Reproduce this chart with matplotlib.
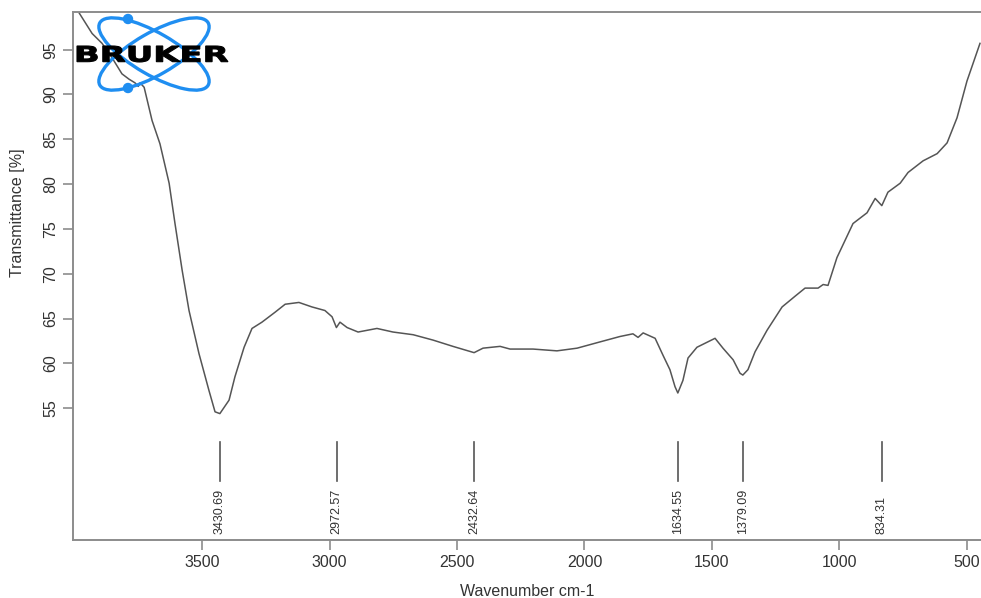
import matplotlib
matplotlib.use("Agg")
import matplotlib.pyplot as plt
from matplotlib.patches import Ellipse, Circle, PathPatch
from matplotlib.textpath import TextPath
from matplotlib.font_manager import FontProperties
from matplotlib.transforms import Affine2D

plt.rcParams["font.family"] = ["Liberation Sans", "DejaVu Sans"]

# spectrum
wavenumber = [3982, 3931, 3892, 3853, 3814, 3786, 3763, 3750, 3743, 3727,
              3696, 3665, 3629, 3606, 3578, 3551, 3512, 3473, 3449, 3430,
              3394, 3371, 3335, 3304, 3265, 3214, 3174, 3120, 3069, 3018,
              2990, 2973, 2959, 2931, 2888, 2814, 2751, 2672, 2594, 2516,
              2433, 2398, 2331, 2292, 2202, 2108, 2029, 1939, 1861, 1810,
              1790, 1770, 1723, 1692, 1665, 1645, 1634, 1614, 1594, 1559,
              1488, 1457, 1417, 1390, 1379, 1359, 1331, 1284, 1225, 1174,
              1135, 1084, 1064, 1045, 1010, 947, 892, 860, 834, 810,
              762, 731, 672, 617, 578, 539, 500, 449]
transmittance = [99.1, 96.8, 95.7, 94.1, 92.3, 91.7, 91.3, 90.9, 91.3, 90.8,
                 87.1, 84.5, 80.1, 75.6, 70.4, 65.9, 61.1, 57.0, 54.6, 54.4,
                 55.9, 58.5, 61.8, 63.9, 64.6, 65.7, 66.6, 66.8, 66.3, 65.9,
                 65.2, 64.0, 64.6, 64.0, 63.5, 63.9, 63.5, 63.2, 62.6, 61.9,
                 61.2, 61.7, 61.9, 61.6, 61.6, 61.4, 61.7, 62.4, 63.0, 63.3,
                 62.9, 63.4, 62.8, 60.9, 59.3, 57.4, 56.7, 58.1, 60.6, 61.8,
                 62.8, 61.7, 60.4, 58.9, 58.7, 59.3, 61.3, 63.7, 66.3, 67.5,
                 68.4, 68.4, 68.8, 68.7, 71.8, 75.6, 76.8, 78.4, 77.6, 79.1,
                 80.1, 81.3, 82.6, 83.4, 84.6, 87.4, 91.5, 95.7]

peaks = [3430.69, 2972.57, 2432.64, 1634.55, 1379.09, 834.31]
peak_labels = ["3430.69", "2972.57", "2432.64", "1634.55", "1379.09", "834.31"]

x_ticks = [3500, 3000, 2500, 2000, 1500, 1000, 500]
y_ticks = [55, 60, 65, 70, 75, 80, 85, 90, 95]

gray = "#555555"
axis_gray = "#8c8c8c"

fig = plt.figure(figsize=(9.81, 5.98), dpi=100)
ax = fig.add_axes([73 / 981, 58 / 598, 1 - 73 / 981, 528 / 598])

ax.plot(wavenumber, transmittance, color=gray, lw=1.1)

# peak markers
for p, lab in zip(peaks, peak_labels):
    ax.plot([p, p], [46.9, 51.2], color=gray, lw=1.2)
    ax.text(p, 41.0, lab, rotation=90, ha="center", va="bottom",
            fontsize=9, color="#333333")

ax.set_xlim(4006, 445)
ax.set_ylim(40.3, 99.2)
ax.set_xticks(x_ticks)
ax.set_yticks(y_ticks)
ax.tick_params(axis="both", colors=axis_gray, labelcolor="#333333",
               labelsize=11.5, length=7, width=1.2)
ax.tick_params(axis="y", labelrotation=90)
for lab in ax.get_yticklabels():
    lab.set_va("center")
for side in ["left", "top", "bottom"]:
    ax.spines[side].set_color(axis_gray)
    ax.spines[side].set_linewidth(1.4)
ax.spines["right"].set_visible(False)

fig.text(527 / 981, 1 - 591 / 598, "Wavenumber cm-1", ha="center",
         va="center", fontsize=11.5, color="#333333")
fig.text(18 / 981, 1 - 213 / 598, "Transmittance [%]", ha="center",
         va="center", rotation=90, fontsize=11.5, color="#333333")

# Bruker logo drawn in pixel coordinates
logo = fig.add_axes([0, 0, 1, 1], zorder=5)
logo.set_xlim(0, 981)
logo.set_ylim(598, 0)
logo.axis("off")
blue = "#1f8ef1"
for ang in (30, -30):
    logo.add_patch(Ellipse((154, 54), 125, 42, angle=ang, fill=False,
                           ec=blue, lw=2.4))
logo.add_patch(Circle((128, 19), 4.5, color=blue))
logo.add_patch(Circle((128, 88), 4.5, color=blue))

tp = TextPath((0, 0), "BRUKER", size=1,
              prop=FontProperties(family="DejaVu Sans", weight="bold"))
bb = tp.get_extents()
tr = (Affine2D().translate(-bb.x0, -bb.y0)
      .scale(151 / bb.width, -16 / bb.height).translate(77, 62))
logo.add_patch(PathPatch(tr.transform_path(tp), fc="black", ec="black",
                         lw=0.8))

fig.savefig("out.png", dpi=100)
